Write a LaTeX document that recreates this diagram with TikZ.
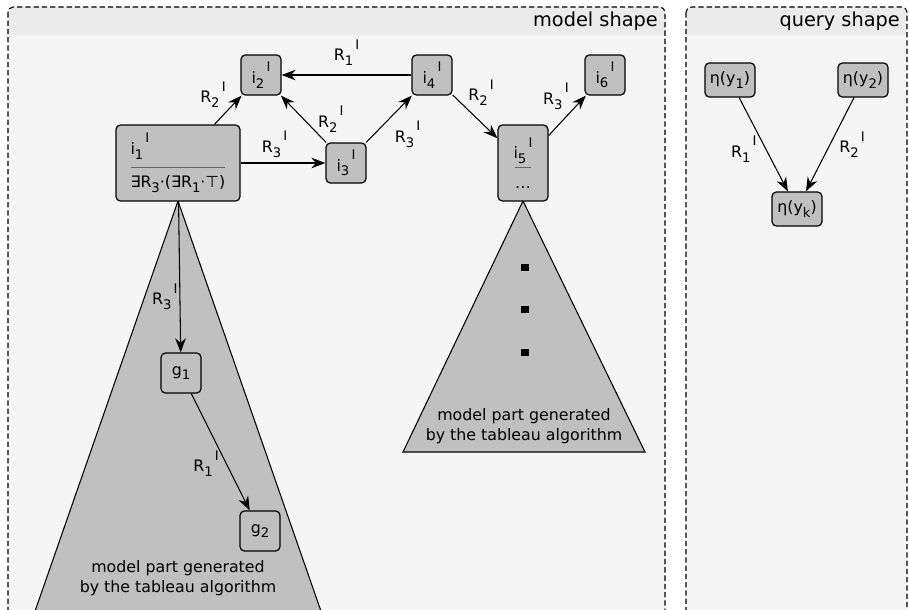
\documentclass[tikz,border=0pt]{standalone}
\usepackage{fontspec}
\setmainfont{DejaVu Sans}
\usetikzlibrary{arrows.meta}
\definecolor{nodogris}{HTML}{C0C0C0}
\definecolor{fondo}{HTML}{F5F5F5}
\definecolor{cabecera}{HTML}{EBEBEB}
\newcommand{\bajo}[1]{\raisebox{-0.55ex}{\fontsize{7.5}{8}\selectfont #1}}
\newcommand{\alto}[1]{\raisebox{1.35ex}{\fontsize{7.5}{8}\selectfont\,#1}}
\newcommand{\rol}[1]{R\bajo{#1}\alto{I}}
\newcommand{\ind}[1]{i\bajo{#1}\alto{I}}
\begin{document}
\begin{tikzpicture}[x=0.02cm, y=-0.02cm, font=\fontsize{9}{11}\selectfont,
    caja/.style={draw, fill=nodogris, rounded corners=2.5pt, line width=0.7pt,
        inner sep=2pt, minimum width=0.8cm, minimum height=0.8cm},
    cajaq/.style={caja, minimum width=1cm, minimum height=0.68cm},
    flecha/.style={-{Stealth[length=8pt, width=6pt]}, line width=0.6pt},
    etiq/.style={inner sep=1pt},
    panel/.style={dashed, dash pattern=on 3pt off 1.7pt, line width=0.6pt, rounded corners=3pt},
    titulo/.style={anchor=east, font=\fontsize{11}{13}\selectfont}]
    \useasboundingbox (0,0) rectangle (909,609);
    \clip (0,0) rectangle (909,609);
    % Paneles
    \begin{scope}
        \clip[rounded corners=3pt] (8,7) rectangle (665,660);
        \fill[fondo] (8,7) rectangle (665,660);
        \fill[cabecera] (8,7) rectangle (665,35);
    \end{scope}
    \draw[panel] (8,7) rectangle (665,660);
    \node[titulo] (tmodelo) at (664,21) {model shape};
    \begin{scope}
        \clip[rounded corners=3pt] (686,7) rectangle (907,660);
        \fill[fondo] (686,7) rectangle (907,660);
        \fill[cabecera] (686,7) rectangle (907,35);
    \end{scope}
    \draw[panel] (686,7) rectangle (907,660);
    \node[titulo] (tconsulta) at (906,21) {query shape};
    % Triangulos
    \draw[fill=nodogris, line width=0.6pt] (178,201) -- (18,660) -- (338,660) -- cycle;
    \draw[fill=nodogris, line width=0.6pt] (523,201) -- (403,452) -- (645,452) -- cycle;
    \node[align=center] (tabizq) at (178,578) {model part generated\\by the tableau algorithm};
    \node[align=center] (tabder) at (524,426) {model part generated\\by the tableau algorithm};
    \foreach \y in {267,309,352}
        \fill (521,\y-3.5) rectangle (529,\y+3.5);
    % Nodos
    \node[caja, minimum width=2.48cm, minimum height=1.52cm, align=left] (i1) at (178,163)
        {\ind{1}\\[-1pt]\textcolor{black!60}{\rule[0.5ex]{1.9cm}{0.6pt}}\\[-2pt]∃R\bajo{3}·(∃R\bajo{1}·⊤)};
    \node[caja] (i2) at (261,75) {\ind{2}};
    \node[caja] (i3) at (346,163) {\ind{3}};
    \node[caja] (i4) at (432,75) {\ind{4}};
    \node[caja, minimum width=1cm, minimum height=1.52cm, align=center] (i5) at (523,163)
        {\ind{5}\\[-3pt]\textcolor{black!60}{\rule[0.5ex]{0.32cm}{0.6pt}}\\[-2pt]…};
    \node[caja] (i6) at (605,75) {\ind{6}};
    \node[caja] (g1) at (181,373) {g\bajo{1}};
    \node[caja] (g2) at (260,531) {g\bajo{2}};
    \node[cajaq] (y1) at (730,80) {η(y\bajo{1})};
    \node[cajaq] (y2) at (863,80) {η(y\bajo{2})};
    \node[cajaq] (yk) at (797,209) {η(y\bajo{k})};
    % Flechas
    \draw[flecha] (i4) -- (i2) node[etiq, midway, above=4pt] {\rol{1}};
    \draw[flecha] (i1) -- (i2) node[etiq, midway, anchor=south east] {\rol{2}};
    \draw[flecha] (i3) -- (i2) node[etiq, midway, right=7pt] {\rol{2}};
    \draw[flecha] (i3) -- (i4) node[etiq, midway, anchor=north west, xshift=2pt] {\rol{3}};
    \draw[flecha] (i1) -- (i3) node[etiq, pos=0.4, above=2pt] {\rol{3}};
    \draw[flecha] (i4) -- (i5) node[etiq, pos=0.3, anchor=south west] {\rol{2}};
    \draw[flecha] (i5) -- (i6) node[etiq, pos=0.6, anchor=south east] {\rol{3}};
    \draw[flecha] (i1) -- (g1) node[etiq, pos=0.63, left] {\rol{3}};
    \draw[flecha] (g1) -- (g2) node[etiq, pos=0.6, left=3pt] {\rol{1}};
    \draw[flecha] (y1) -- (yk) node[etiq, pos=0.55, left=4pt] {\rol{1}};
    \draw[flecha] (y2) -- (yk) node[etiq, pos=0.5, right=4pt] {\rol{2}};
\end{tikzpicture}
\end{document}
